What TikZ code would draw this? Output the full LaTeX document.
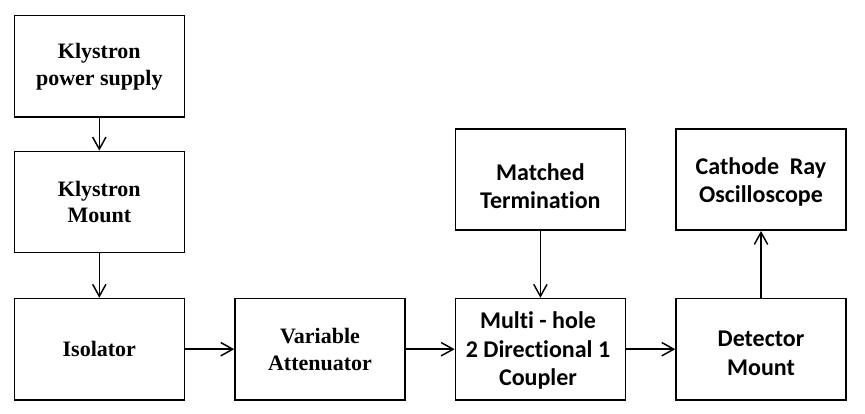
\documentclass[tikz,border=0pt]{standalone}
\usepackage{fontspec}
\newfontfamily\serifbold{Liberation Serif}[BoldFont={* Bold}]
\newfontfamily\calib{Carlito}[Ligatures=NoCommon]
\usetikzlibrary{arrows.meta}
\begin{document}
\begin{tikzpicture}[x=0.75pt,y=-0.75pt,
  box/.style={draw,line width=1.1pt,minimum width=127.5pt,minimum height=76pt,inner sep=0pt,align=center},
  lbox/.style={box,font=\serifbold\bfseries\fontsize{16.5}{20.2}\selectfont},
  rbox/.style={box},
  rtxt/.style={inner sep=0pt,align=center,font=\calib\bfseries\fontsize{18}{21.4}\selectfont},
  arr/.style={line width=1.1pt,-{Straight Barb[length=9pt,width=10pt,line width=1.1pt]}}]
\useasboundingbox (0,0) rectangle (865,414);
\node[lbox] (kps) at (99.3,66.3) {Klystron\\power supply};
\node[lbox] (km) at (99.3,202) {Klystron\\Mount};
\node[lbox] (iso) at (99.3,349.2) {Isolator};
\node[lbox] (va) at (320,349.2) {Variable\\Attenuator};
\node[rbox] (mt) at (540.4,179.5) {};
\node[rtxt] (mtt) at (540.4,186) {Matched\\Termination};
\node[rbox] (cro) at (761,179.5) {};
\node[rtxt] (crot) at (761,182) {Cathode\ \ Ray\\Oscilloscope};
\node[rbox] (mhc) at (540.4,349.2) {};
\node[rtxt] (mhct) at (538,350.5) {Multi - hole\\2 Directional 1\\Coupler};
\node[rbox] (dm) at (761,349.2) {};
\node[rtxt] (dmt) at (761,353.5) {Detector\\Mount};
\draw[arr] (kps) -- (km);
\draw[arr] (km) -- (iso);
\draw[arr] (iso) -- (va);
\draw[arr] (va) -- (mhc);
\draw[arr] (mhc) -- (dm);
\draw[arr] (mt) -- (mhc);
\draw[arr] (dm) -- (cro);
\end{tikzpicture}
\end{document}
